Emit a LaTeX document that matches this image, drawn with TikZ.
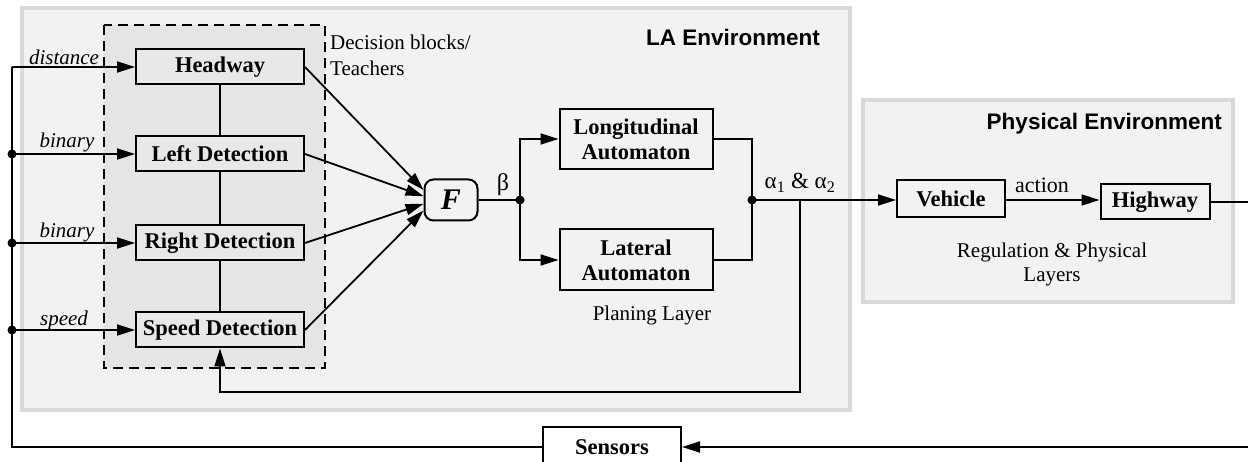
\documentclass[tikz,border=0pt]{standalone}
\usepackage{fontspec}
\setmainfont{Liberation Serif}
\newfontfamily\titlefont{Liberation Sans}
\usetikzlibrary{arrows.meta,calc}
\definecolor{envfill}{HTML}{F2F2F2}
\definecolor{envline}{HTML}{D9D9D9}
\definecolor{dashfill}{HTML}{E5E5E5}
\definecolor{boxfill}{HTML}{E8E8E8}
\tikzset{
  env/.style={draw=envline, line width=3.5pt, fill=envfill},
  blk/.style={draw, line width=2pt, inner sep=0pt, align=center, font=\fontsize{22.5}{25}\selectfont\bfseries},
  lbl/.style={font=\fontsize{21}{24}\selectfont, inner sep=0pt},
  ilbl/.style={font=\fontsize{21}{24}\selectfont\itshape, inner sep=0pt},
  ttl/.style={font=\titlefont\fontsize{22.5}{25}\selectfont\bfseries, inner sep=0pt},
  wire/.style={line width=1.8pt},
  arr/.style={line width=1.8pt, -{Triangle[length=18pt,width=11pt]}},
  dot/.style={circle, fill=black, inner sep=0pt, minimum size=9pt},
}
\begin{document}
\begin{tikzpicture}[x=1pt,y=-1pt]
\useasboundingbox (0,0) rectangle (1248,462);
% environments
\draw[env] (22,8) rectangle (850,410);
\draw[env] (863,100) rectangle (1233,302);
\node[ttl, anchor=east] (latitle) at (820,37) {LA Environment};
\node[ttl, anchor=east] (phtitle) at (1222,124) {Physical Environment};
% dashed decision region
\draw[fill=dashfill, line width=1.8pt, dash pattern=on 10pt off 6pt] (104,25) rectangle (325,368);
\node[lbl, anchor=west, align=left, font=\fontsize{21}{26}\selectfont] (dec) at (330,55) {Decision blocks/\\Teachers};
% decision blocks
\node[blk, fill=boxfill, minimum width=168pt, minimum height=35pt] (head) at (220,67) {Headway};
\node[blk, fill=boxfill, minimum width=168pt, minimum height=35pt] (left) at (220,154) {Left Detection};
\node[blk, fill=boxfill, minimum width=168pt, minimum height=35pt] (right) at (220,243) {Right Detection};
\node[blk, fill=boxfill, minimum width=168pt, minimum height=35pt] (speed) at (220,330) {Speed Detection};
\draw[wire] (head.south) -- (left.north);
\draw[wire] (left.south) -- (right.north);
\draw[wire] (right.south) -- (speed.north);
% F
\node[draw, line width=2pt, rounded corners=9pt, fill=envfill, minimum width=53pt, minimum height=41pt, inner sep=0pt, font=\fontsize{30}{32}\selectfont\bfseries\itshape] (F) at (451,200) {F};
\draw[arr] (head.east) -- (F.160);
\draw[arr] (left.east) -- (F.172);
\draw[arr] (right.east) -- (F.188);
\draw[arr] (speed.east) -- (F.201);
% automata
\node[blk, fill=envfill, minimum width=153pt, minimum height=60pt] (lon) at (636,139) {Longitudinal\\Automaton};
\node[blk, fill=envfill, minimum width=153pt, minimum height=61pt] (lat) at (636,260) {Lateral\\Automaton};
\coordinate (j1) at (520,200);
\coordinate (j2) at (752,200);
\draw[wire] (F.east) -- (j1);
\draw[arr] (j1) |- (lon.west);
\draw[arr] (j1) |- (lat.west);
\draw[wire] (lon.east) -| (j2);
\draw[wire] (lat.east) -| (j2);
\node[dot] (d1) at (j1) {};
\node[dot] (d2) at (j2) {};
\node[lbl, font=\fontsize{24}{26}\selectfont] (beta) at (503,185) {β};
\node[lbl, font=\fontsize{23}{26}\selectfont] (alpha) at (800,183) {α\textsubscript{1} \& α\textsubscript{2}};
\node[lbl] (plan) at (652,315) {Planing Layer};
% physical
\node[blk, fill=envfill, minimum width=108pt, minimum height=37pt] (veh) at (951,199) {Vehicle};
\node[blk, fill=envfill, minimum width=109pt, minimum height=35pt] (hwy) at (1155,202) {Highway};
\draw[arr] (j2) -- (veh.west |- j2);
\draw[arr] (veh.east |- j2) -- (hwy.west |- j2);
\node[lbl, font=\fontsize{22}{24}\selectfont] (act) at (1042,185) {action};
\node[lbl, align=center, font=\fontsize{21}{24}\selectfont] (reg) at (1052,264) {Regulation \& Physical\\Layers};
\coordinate (eastEdge) at (1248,202);
\draw[wire] (hwy.east) -- (eastEdge);
% feedback
\coordinate (fb0) at (800,200);
\coordinate (fb1) at (800,392);
\draw[arr] (fb0) -- (fb1) -| (speed.south);
% sensors
\node[blk, fill=white, minimum width=138pt, minimum height=40pt] (sens) at (612,447) {Sensors};
\coordinate (eastBot) at (1248,447);
\draw[arr] (eastBot) -- (sens.east);
% inputs
\coordinate (inTop) at (12,67);
\coordinate (inBot) at (12,447);
\coordinate (pL) at (12,154);
\coordinate (pR) at (12,243);
\coordinate (pS) at (12,330);
\draw[wire] (inTop) -- (inBot) -- (sens.west);
\draw[arr] (inTop) -- (head.west);
\draw[arr] (pL) -- (left.west);
\draw[arr] (pR) -- (right.west);
\draw[arr] (pS) -- (speed.west);
\node[dot] at (pL) {};
\node[dot] at (pR) {};
\node[dot] at (pS) {};
\node[ilbl] (l1) at (64,57) {distance};
\node[ilbl] (l2) at (67,142) {binary};
\node[ilbl] (l3) at (67,232) {binary};
\node[ilbl] (l4) at (64,320) {speed};
\end{tikzpicture}
\end{document}
